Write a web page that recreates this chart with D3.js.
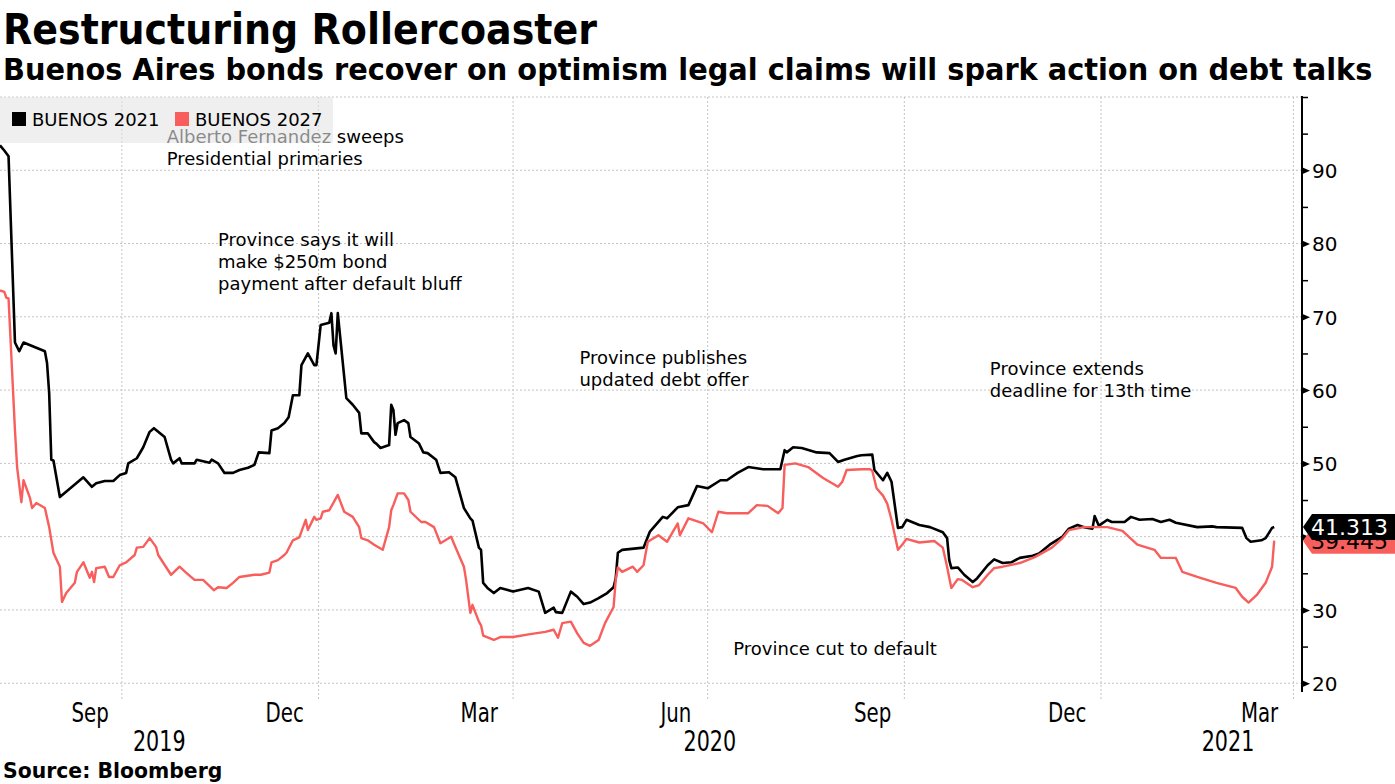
<!DOCTYPE html>
<html><head><meta charset="utf-8">
<script src="https://cdn.jsdelivr.net/npm/d3@7"></script>
<style>
html,body{margin:0;padding:0;background:#fff;}
svg{display:block;font-family:"DejaVu Sans",sans-serif;}
</style></head>
<body>
<svg id="chart" width="1395" height="784"></svg>
<script>
// ---------- DATA ----------
const seriesNames = ["BUENOS 2021", "BUENOS 2027"];
const lastLabels = ["41.313", "39.445"];
const buenos2021 = [
["2019-08-05",93.4],["2019-08-07",92.7],["2019-08-09",91.9],["2019-08-12",66.5],["2019-08-14",65.3],["2019-08-16",66.5],["2019-08-26",65.3],["2019-08-27",63.7],["2019-08-28",59.6],["2019-08-29",50.5],["2019-08-30",50.4],["2019-09-02",45.4],["2019-09-13",48.1],["2019-09-17",46.8],["2019-09-19",47.3],["2019-09-23",47.6],["2019-09-27",47.6],["2019-09-30",48.4],["2019-10-03",48.7],["2019-10-04",50.0],["2019-10-08",50.7],["2019-10-11",52.2],["2019-10-14",54.3],["2019-10-16",54.8],["2019-10-21",53.6],["2019-10-24",50.5],["2019-10-25",50.0],["2019-10-28",50.7],["2019-10-29",50.0],["2019-11-04",50.0],["2019-11-05",50.5],["2019-11-11",50.1],["2019-11-12",50.5],["2019-11-15",50.0],["2019-11-18",48.7],["2019-11-22",48.7],["2019-11-25",49.1],["2019-11-29",49.4],["2019-12-02",49.8],["2019-12-04",51.5],["2019-12-09",51.4],["2019-12-10",54.5],["2019-12-13",54.8],["2019-12-16",55.5],["2019-12-18",56.3],["2019-12-20",59.3],["2019-12-23",59.3],["2019-12-24",63.4],["2019-12-27",65.0],["2019-12-30",63.4],["2019-12-31",63.4],["2020-01-02",68.9],["2020-01-06",69.2],["2020-01-07",70.5],["2020-01-08",66.1],["2020-01-09",65.0],["2020-01-10",70.5],["2020-01-14",58.9],["2020-01-17",58.0],["2020-01-20",56.9],["2020-01-21",54.1],["2020-01-24",54.1],["2020-01-27",52.9],["2020-01-28",52.7],["2020-01-30",52.1],["2020-02-03",52.5],["2020-02-04",58.0],["2020-02-05",57.3],["2020-02-06",53.9],["2020-02-07",55.5],["2020-02-10",55.9],["2020-02-12",55.5],["2020-02-13",53.6],["2020-02-17",52.7],["2020-02-19",51.5],["2020-02-21",51.4],["2020-02-25",50.5],["2020-02-27",48.7],["2020-03-02",48.8],["2020-03-05",48.1],["2020-03-09",43.9],["2020-03-12",42.5],["2020-03-13",42.2],["2020-03-16",38.5],["2020-03-17",38.2],["2020-03-18",33.7],["2020-03-20",33.0],["2020-03-23",32.3],["2020-03-26",33.0],["2020-04-01",32.5],["2020-04-08",33.0],["2020-04-13",32.5],["2020-04-16",29.6],["2020-04-20",30.3],["2020-04-21",29.7],["2020-04-24",29.6],["2020-04-28",32.5],["2020-05-01",31.8],["2020-05-04",30.8],["2020-05-07",31.0],["2020-05-11",31.6],["2020-05-15",32.3],["2020-05-18",33.1],["2020-05-19",34.3],["2020-05-20",37.8],["2020-05-22",38.2],["2020-06-01",38.5],["2020-06-04",40.7],["2020-06-10",42.7],["2020-06-12",42.5],["2020-06-17",44.0],["2020-06-22",44.3],["2020-06-26",46.9],["2020-07-01",46.6],["2020-07-07",47.7],["2020-07-10",47.7],["2020-07-15",48.7],["2020-07-20",49.5],["2020-07-27",49.2],["2020-08-04",49.2],["2020-08-06",51.8],["2020-08-07",51.5],["2020-08-10",52.2],["2020-08-14",52.1],["2020-08-21",51.5],["2020-08-27",51.4],["2020-08-31",50.2],["2020-09-03",50.5],["2020-09-09",51.0],["2020-09-11",51.1],["2020-09-16",51.2],["2020-09-17",49.1],["2020-09-21",47.7],["2020-09-23",48.7],["2020-09-25",47.5],["2020-09-28",41.2],["2020-09-30",41.3],["2020-10-02",42.3],["2020-10-08",41.6],["2020-10-13",41.3],["2020-10-19",40.6],["2020-10-21",39.8],["2020-10-22",36.8],["2020-10-23",35.7],["2020-10-26",35.8],["2020-10-29",34.8],["2020-11-02",33.8],["2020-11-04",34.3],["2020-11-09",36.1],["2020-11-12",36.9],["2020-11-16",36.4],["2020-11-20",36.5],["2020-11-24",37.1],["2020-11-30",37.4],["2020-12-03",37.7],["2020-12-08",38.9],["2020-12-14",40.0],["2020-12-17",41.1],["2020-12-21",41.6],["2020-12-24",41.3],["2020-12-28",41.1],["2020-12-29",42.8],["2020-12-31",41.5],["2021-01-04",42.3],["2021-01-06",42.0],["2021-01-12",42.0],["2021-01-15",42.7],["2021-01-19",42.3],["2021-01-25",42.4],["2021-01-29",42.0],["2021-02-02",42.3],["2021-02-05",41.9],["2021-02-15",41.3],["2021-02-22",41.4],["2021-02-24",41.3],["2021-03-08",41.2],["2021-03-10",39.8],["2021-03-12",39.3],["2021-03-17",39.5],["2021-03-19",39.8],["2021-03-22",41.2],["2021-03-23",41.313]
];
const buenos2027 = [
["2019-08-05",73.6],["2019-08-07",73.4],["2019-08-08",72.6],["2019-08-09",72.5],["2019-08-12",54.5],["2019-08-13",49.5],["2019-08-15",44.7],["2019-08-16",47.7],["2019-08-19",45.3],["2019-08-20",43.9],["2019-08-22",44.6],["2019-08-26",43.9],["2019-08-28",41.3],["2019-08-30",37.8],["2019-09-02",35.9],["2019-09-03",31.1],["2019-09-05",32.3],["2019-09-09",33.7],["2019-09-10",35.2],["2019-09-13",36.5],["2019-09-16",34.4],["2019-09-17",35.2],["2019-09-18",33.8],["2019-09-19",35.7],["2019-09-23",35.9],["2019-09-25",34.5],["2019-09-27",34.5],["2019-09-30",36.1],["2019-10-03",36.5],["2019-10-07",37.5],["2019-10-08",38.5],["2019-10-11",38.6],["2019-10-14",39.8],["2019-10-17",38.6],["2019-10-18",37.5],["2019-10-24",34.8],["2019-10-28",35.9],["2019-10-31",35.1],["2019-11-04",34.1],["2019-11-08",34.1],["2019-11-13",32.7],["2019-11-15",33.1],["2019-11-19",33.0],["2019-11-22",33.7],["2019-11-25",34.5],["2019-12-02",34.8],["2019-12-05",34.8],["2019-12-09",35.1],["2019-12-10",36.5],["2019-12-13",36.8],["2019-12-16",37.5],["2019-12-17",37.8],["2019-12-20",39.5],["2019-12-23",39.9],["2019-12-26",42.3],["2019-12-27",40.9],["2019-12-30",42.7],["2019-12-31",42.3],["2020-01-02",42.5],["2020-01-03",43.4],["2020-01-06",43.6],["2020-01-10",45.7],["2020-01-13",43.4],["2020-01-17",42.7],["2020-01-20",41.3],["2020-01-21",39.8],["2020-01-24",39.5],["2020-01-27",38.9],["2020-01-31",38.2],["2020-02-03",41.3],["2020-02-04",43.6],["2020-02-05",44.3],["2020-02-07",45.9],["2020-02-10",45.9],["2020-02-12",45.0],["2020-02-13",43.4],["2020-02-18",42.0],["2020-02-20",42.0],["2020-02-24",41.3],["2020-02-27",39.1],["2020-03-03",40.0],["2020-03-05",38.6],["2020-03-09",35.9],["2020-03-10",34.1],["2020-03-12",29.6],["2020-03-13",30.7],["2020-03-16",28.4],["2020-03-17",27.9],["2020-03-18",26.5],["2020-03-23",25.9],["2020-03-26",26.3],["2020-04-01",26.3],["2020-04-09",26.7],["2020-04-16",27.0],["2020-04-20",27.3],["2020-04-22",26.2],["2020-04-24",28.2],["2020-04-28",28.4],["2020-05-01",26.8],["2020-05-04",25.5],["2020-05-07",25.1],["2020-05-11",25.9],["2020-05-14",28.2],["2020-05-18",30.4],["2020-05-19",34.1],["2020-05-20",35.8],["2020-05-22",35.2],["2020-05-27",35.9],["2020-05-29",35.2],["2020-06-01",36.1],["2020-06-03",39.3],["2020-06-08",40.2],["2020-06-12",39.3],["2020-06-17",41.8],["2020-06-18",40.2],["2020-06-22",42.5],["2020-06-29",41.8],["2020-07-03",40.6],["2020-07-06",43.4],["2020-07-10",43.2],["2020-07-16",43.2],["2020-07-20",43.2],["2020-07-24",44.3],["2020-07-29",44.2],["2020-08-03",43.2],["2020-08-05",43.9],["2020-08-06",49.8],["2020-08-11",50.0],["2020-08-17",49.5],["2020-08-24",48.0],["2020-08-31",46.8],["2020-09-02",47.5],["2020-09-04",49.1],["2020-09-11",49.2],["2020-09-15",49.2],["2020-09-16",49.0],["2020-09-18",46.6],["2020-09-21",45.6],["2020-09-23",44.5],["2020-09-25",42.3],["2020-09-28",38.2],["2020-09-30",38.9],["2020-10-02",39.7],["2020-10-08",39.2],["2020-10-15",39.4],["2020-10-19",38.5],["2020-10-21",35.9],["2020-10-22",34.4],["2020-10-23",33.0],["2020-10-26",34.2],["2020-10-28",34.1],["2020-11-02",33.1],["2020-11-05",33.4],["2020-11-09",34.8],["2020-11-12",35.7],["2020-11-16",35.9],["2020-11-24",36.4],["2020-12-01",37.2],["2020-12-09",38.5],["2020-12-14",39.8],["2020-12-17",40.9],["2020-12-24",41.3],["2021-01-04",41.3],["2021-01-11",40.8],["2021-01-18",38.9],["2021-01-26",38.2],["2021-01-29",37.1],["2021-02-05",37.1],["2021-02-08",35.2],["2021-02-15",34.5],["2021-02-24",33.7],["2021-03-05",33.0],["2021-03-08",31.8],["2021-03-11",31.0],["2021-03-15",32.1],["2021-03-19",33.7],["2021-03-22",35.9],["2021-03-23",39.445]
];
const yTicks = [20, 30, 40, 50, 60, 70, 80, 90];
const yMinorTicks = [25, 35, 45, 55, 65, 75, 85, 95, 100];
const monthTicks = ["2019-09-15","2019-12-15","2020-03-15","2020-06-15","2020-09-15","2020-12-15","2021-03-15"];
const monthLabels = ["Sep","Dec","Mar","Jun","Sep","Dec","Mar"];
const gridDates = ["2019-10-01","2020-01-01","2020-04-01","2020-07-01","2020-10-01","2021-01-01","2021-04-01"];
const years = ["2019","2020","2021"];
const annotations = [
  {date:"2019-10-22", value:93.7, lines:["Alberto Fernandez sweeps","Presidential primaries"]},
  {date:"2019-11-15", value:79.7, lines:["Province says it will","make $250m bond","payment after default bluff"]},
  {date:"2020-05-02", value:63.6, lines:["Province publishes","updated debt offer"]},
  {date:"2020-11-10", value:62.1, lines:["Province extends","deadline for 13th time"]},
  {date:"2020-07-13", value:23.9, lines:["Province cut to default"]}
];
const title = "Restructuring Rollercoaster";
const subtitle = "Buenos Aires bonds recover on optimism legal claims will spark action on debt talks";
const source = "Source: Bloomberg";

// ---------- SETUP ----------
const W = 1395, H = 784;
const m = {left: 0, right: 1302, top: 97, bottom: 692};
const colors = ["#000000", "#f75e5c"];
const parse = d3.utcParse("%Y-%m-%d");
const svg = d3.select("#chart");

const x = d3.scaleUtc().domain([parse("2019-08-05"), parse("2021-04-05")]).range([m.left, m.right]);
const y = d3.scaleLinear().domain([18.8, 100]).range([m.bottom, m.top]);

const toPts = arr => arr.map(d => ({date: parse(d[0]), value: d[1]}));
const series = [toPts(buenos2021), toPts(buenos2027)];

function stretchText(g, px, py, str, sy, attrs) {
  const t = g.append("text").attr("transform", `translate(${px},${py}) scale(1,${sy})`).text(str);
  for (const k in attrs) t.attr(k, attrs[k]);
  return t;
}

// ---------- GRID ----------
const grid = svg.append("g");
grid.selectAll("line.h").data(d3.range(20, 101, 10)).join("line")
  .attr("x1", m.left).attr("x2", m.right)
  .attr("y1", d => y(d)).attr("y2", d => y(d))
  .attr("stroke", "#c4c4c4").attr("stroke-width", 1).attr("stroke-dasharray", "2,2");
grid.selectAll("line.v").data(gridDates.map(parse)).join("line")
  .attr("x1", d => x(d)).attr("x2", d => x(d))
  .attr("y1", m.top).attr("y2", 700)
  .attr("stroke", "#c4c4c4").attr("stroke-width", 1).attr("stroke-dasharray", "2,2");

// ---------- ANNOTATIONS (under legend box) ----------
const ann = svg.append("g").attr("font-size", "18px").attr("fill", "#000");
annotations.forEach(a => {
  a.lines.forEach((ln, i) => {
    ann.append("text").attr("x", x(parse(a.date))).attr("y", y(a.value) + i * 22).text(ln);
  });
});

// ---------- LINES ----------
const line = d3.line().x(d => x(d.date)).y(d => y(d.value));
svg.append("path").datum(series[0]).attr("d", line)
  .attr("fill", "none").attr("stroke", colors[0]).attr("stroke-width", 2.6).attr("stroke-linejoin", "round");
svg.append("path").datum(series[1]).attr("d", line)
  .attr("fill", "none").attr("stroke", colors[1]).attr("stroke-width", 2.4).attr("stroke-linejoin", "round");

// ---------- LEGEND ----------
const leg = svg.append("g");
leg.append("rect").attr("x", 0).attr("y", m.top).attr("width", 333).attr("height", 46)
  .attr("fill", "#e4e4e4").attr("fill-opacity", 0.6);
const legX = [12, 175];
seriesNames.forEach((n, i) => {
  leg.append("rect").attr("x", legX[i]).attr("y", 112).attr("width", 14).attr("height", 14).attr("fill", colors[i]);
  leg.append("text").attr("x", legX[i] + 20).attr("y", 126).attr("font-size", "18px").text(n);
});

// ---------- Y AXIS ----------
const yAxisG = svg.append("g").attr("transform", `translate(${m.right},0)`);
yAxisG.call(d3.axisRight(y).tickValues(yTicks).tickSize(0).tickPadding(10).tickFormat(d3.format("d")));
yAxisG.select(".domain").remove();
yAxisG.selectAll("text").attr("font-size", "20px").attr("font-family", "DejaVu Sans").attr("fill", "#000").attr("dy", "0.36em");
yAxisG.selectAll(".tick").append("path").attr("d", "M0,-3.5L8,0L0,3.5Z").attr("fill", "#000");
const yMinor = svg.append("g").attr("transform", `translate(${m.right},0)`);
yMinor.call(d3.axisRight(y).tickValues(yMinorTicks).tickSize(6).tickFormat(""));
yMinor.select(".domain").remove();
yMinor.selectAll("line").attr("stroke", "#000").attr("stroke-width", 1.5);
svg.append("line").attr("x1", m.right).attr("x2", m.right).attr("y1", m.top - 1).attr("y2", m.bottom)
  .attr("stroke", "#000").attr("stroke-width", 2);

// ---------- X AXIS ----------
const xAxisG = svg.append("g").attr("transform", `translate(0,700)`);
xAxisG.call(d3.axisBottom(x).tickValues(monthTicks.map(parse)).tickSize(0)
  .tickFormat((d, i) => monthLabels[i]));
xAxisG.select(".domain").remove();
xAxisG.selectAll(".tick text").attr("y", 0).attr("dy", null)
  .attr("font-family", "DejaVu Sans Condensed, DejaVu Sans").attr("font-stretch", "condensed")
  .attr("font-size", "22px").attr("fill", "#000")
  .attr("transform", "translate(2,22) scale(1,1.22)");
// year labels centred in each year's span of the chart width (axis label gutter excluded)
const xEnd = x.invert(W - 40);
years.forEach(yr => {
  const s = d3.max([parse(yr + "-01-01"), x.domain()[0]]);
  const e = d3.min([parse((+yr + 1) + "-01-01"), xEnd]);
  const cx = (x(s) + x(e)) / 2;
  stretchText(svg, cx, 751, yr, 1.22, {"text-anchor": "middle", "font-size": "23px",
    "font-family": "DejaVu Sans Condensed, DejaVu Sans", "font-stretch": "condensed"});
});

// ---------- END TAGS ----------
[1, 0].forEach(i => {
  const pts = series[i];
  const yv = y(pts[pts.length - 1].value);
  const g = svg.append("g");
  g.append("path")
    .attr("d", `M${m.right + 1},${yv}L${m.right + 10},${yv - 13}L${W},${yv - 13}L${W},${yv + 13}L${m.right + 10},${yv + 13}Z`)
    .attr("fill", colors[i]);
  g.append("text").attr("x", m.right + 9).attr("y", yv + 8).attr("font-size", "22px")
    .attr("fill", i === 0 ? "#fff" : "#000").text(lastLabels[i]);
});

// ---------- TITLES ----------
stretchText(svg, 3, 44, title, 1.1, {"font-size": "38px", "font-weight": "bold"});
stretchText(svg, 3, 80, subtitle, 1.03, {"font-size": "28.8px", "font-weight": "bold"});
stretchText(svg, 3, 778, source, 1.08, {"font-size": "20.4px", "font-weight": "bold"});
</script>
</body></html>
